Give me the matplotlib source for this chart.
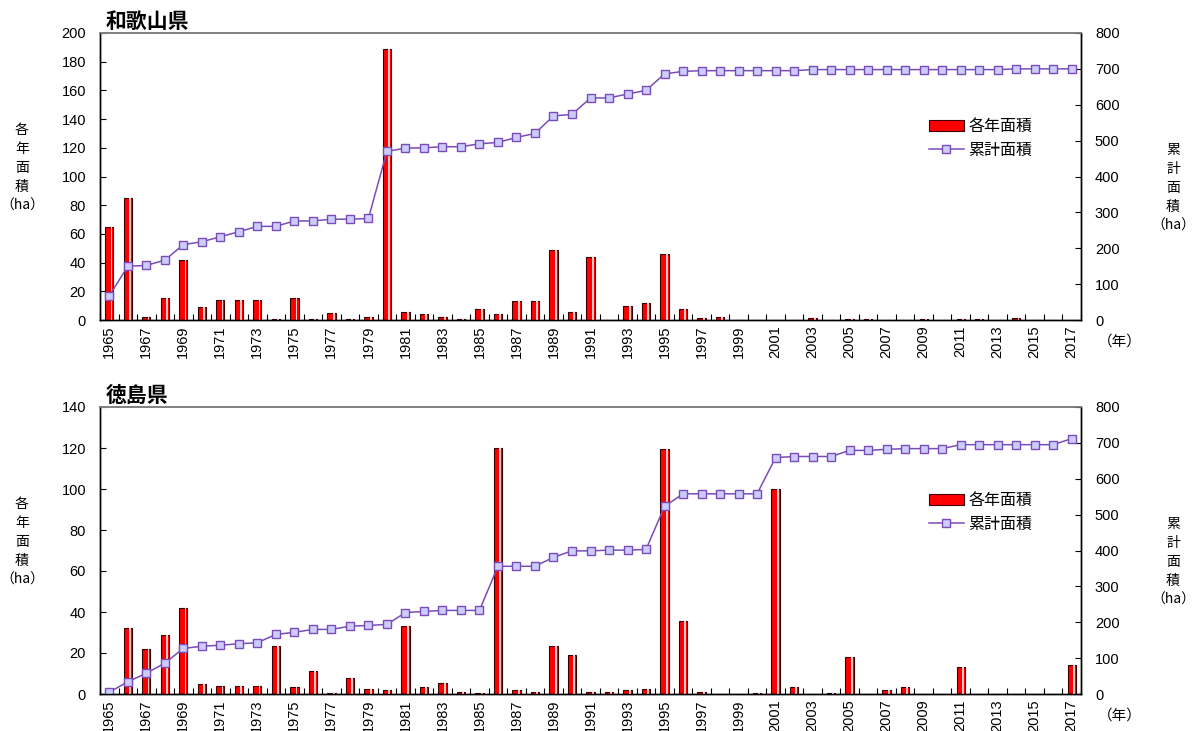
import matplotlib
matplotlib.use("Agg")
import matplotlib.pyplot as plt
import numpy as np

years = list(range(1965, 2018))

# 和歌山県
wakayama_annual = [65, 85, 2, 15, 42, 9, 14, 14, 14, 0.7, 15, 0.7, 4.6, 0.7, 2, 189,
                   5.6, 4, 2, 0.7, 8, 4, 13, 13, 49, 5.6, 44, 0, 10, 12, 46, 7.4,
                   1.2, 2, 0, 0, 0, 0, 1.2, 0, 0.7, 0.7, 0, 0, 0.7, 0, 0.7, 0.7,
                   0, 1.2, 0, 0, 0]
wakayama_cum = [67, 150, 152, 167, 210, 218, 232, 246, 261, 261, 276, 276, 281, 281, 283, 470,
                479, 480, 483, 483, 491, 495, 509, 520, 569, 573, 619, 619, 630, 640, 686, 693,
                695, 695, 695, 695, 695, 695, 698, 698, 698, 698, 698, 698, 698, 698, 698, 698,
                698, 700, 700, 700, 700]

# 徳島県
tokushima_annual = [0, 32, 22, 29, 42, 4.7, 3.9, 3.9, 3.9, 23.3, 3.4, 11, 0.3, 8, 2.3, 1.8,
                    33, 3.4, 5.2, 0.8, 0.3, 120, 1.8, 0.8, 23.4, 19, 0.8, 0.8, 1.8, 2.3, 119.3, 35.4,
                    0.8, 0, 0, 0.3, 100, 3.4, 0, 0.3, 18, 0, 1.8, 3.3, 0, 0, 13, 0,
                    0, 0, 0, 0, 14]
tokushima_cum = [5, 34, 58, 86, 127, 133, 136, 140, 143, 166, 172, 180, 180, 189, 191, 194,
                 227, 230, 233, 233, 233, 356, 356, 356, 381, 399, 399, 401, 401, 403, 523, 558,
                 558, 558, 558, 558, 659, 662, 662, 662, 679, 679, 682, 684, 684, 684, 695, 695,
                 695, 695, 695, 695, 712]

panels = [
    ("和歌山県", wakayama_annual, wakayama_cum, 200),
    ("徳島県", tokushima_annual, tokushima_cum, 140),
]

num_font = ["Liberation Sans", "Noto Sans CJK JP"]
jp_font = ["Noto Sans CJK JP", "DejaVu Sans"]
plt.rcParams["font.family"] = num_font

fig = plt.figure(figsize=(11.97, 7.31), dpi=100)
W, H = 1197, 731
boxes = [(100, 33, 1081, 320), (100, 407, 1081, 694)]

x = np.arange(len(years))
for (title, annual, cum, ymax), (l, t, r, b) in zip(panels, boxes):
    ax = fig.add_axes([l / W, 1 - b / H, (r - l) / W, (b - t) / H])
    ax2 = ax.twinx()

    bars = ax.bar(x, annual, width=0.45, color="#ff0000", edgecolor="#3a0000",
                  linewidth=0.8, zorder=2, label="各年面積")
    ax.bar(x + 0.12, annual, width=0.1, color="#ffc8c8", linewidth=0, zorder=3)

    line, = ax2.plot(x, cum, color="#7a4cb8", linewidth=1.1, marker="s", markersize=6,
                     markerfacecolor="#ccccff", markeredgecolor="#7a4cb8",
                     markeredgewidth=1.0, label="累計面積")

    ax.set_xlim(-0.5, len(years) - 0.5)
    ax.set_ylim(0, ymax)
    ax2.set_ylim(0, 800)
    ax.set_yticks(np.arange(0, ymax + 1, 20))
    ax2.set_yticks(np.arange(0, 801, 100))

    ax.set_xticks(x[::2])
    ax.set_xticklabels([str(y) for y in years[::2]], rotation=90, fontsize=10.5)
    ax.set_xticks(np.arange(-0.5, len(years), 1), minor=True)
    ax.tick_params(axis="x", which="major", length=0, pad=4)
    ax.tick_params(axis="x", which="minor", direction="in", length=4, width=0.8)
    ax.tick_params(axis="y", direction="in", length=4, labelsize=10.5, pad=10)
    ax2.tick_params(axis="y", direction="in", length=4, labelsize=10.5, pad=10)

    for a in (ax, ax2):
        a.spines["top"].set_color("#808080")
        a.spines["top"].set_linewidth(1.2)
        for s in ("left", "right", "bottom"):
            a.spines[s].set_linewidth(1.0)

    ax.text(0.006, 1.005, title, transform=ax.transAxes, fontsize=15, fontweight="bold",
            family=jp_font, ha="left", va="bottom")

    # axis captions
    fig.text(22 / W, 1 - (t + 135) / H, "各\n年\n面\n積\n（ha）", family=jp_font,
             fontsize=10, ha="center", va="center", linespacing=1.45)
    fig.text(1173 / W, 1 - (t + 155) / H, "累\n計\n面\n積\n（ha）", family=jp_font,
             fontsize=10, ha="center", va="center", linespacing=1.45)
    fig.text(1120 / W, 1 - (b + 22) / H, "（年）", family=jp_font,
             fontsize=10.5, ha="center", va="center")

    leg = ax2.legend([bars, line], ["各年面積", "累計面積"], loc="upper left",
                     bbox_to_anchor=(0.83, 0.755), frameon=False,
                     prop={"family": jp_font, "size": 11.5}, handlelength=2.2,
                     handletextpad=0.3, labelspacing=0.45)

fig.savefig("out.png", dpi=100)
